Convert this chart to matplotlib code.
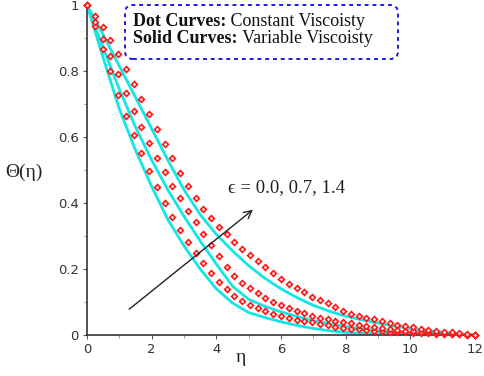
import matplotlib
matplotlib.use('Agg')
import matplotlib.pyplot as plt
from matplotlib.patches import FancyBboxPatch
from matplotlib.ticker import MultipleLocator

# solid curves (variable viscosity), eps = 0.0, 0.7, 1.4
eta_line = [0, 0.5, 1, 1.5, 2, 2.5, 3, 3.5, 4, 4.5, 5, 5.5, 6,
            6.5, 7, 7.5, 8, 8.5, 9, 9.5, 10, 10.5, 11, 11.5, 12]
solid_eps_00 = [1.0, 0.84, 0.685, 0.56, 0.45, 0.35, 0.27, 0.2, 0.14, 0.097, 0.068, 0.053, 0.04,
                0.029, 0.02, 0.013, 0.008, 0.005, 0.003, 0.002, 0.001, 0.001, 0.0, 0.0, 0.0]
solid_eps_07 = [1.0, 0.87, 0.745, 0.63, 0.53, 0.44, 0.36, 0.285, 0.215, 0.148, 0.108, 0.087, 0.07,
                0.056, 0.043, 0.034, 0.026, 0.019, 0.013, 0.009, 0.006, 0.004, 0.002, 0.001, 0.0]
solid_eps_14 = [1.0, 0.91, 0.815, 0.72, 0.625, 0.53, 0.44, 0.365, 0.305, 0.255, 0.21, 0.172, 0.14,
                0.113, 0.09, 0.072, 0.057, 0.046, 0.036, 0.027, 0.019, 0.013, 0.008, 0.004, 0.0]

# dotted curves (constant viscosity)
eta_dot = [0, 0.24, 0.48, 0.72, 0.96, 1.2, 1.44, 1.68, 1.92, 2.16, 2.4, 2.64, 2.88,
           3.12, 3.36, 3.6, 3.84, 4.08, 4.32, 4.56, 4.8, 5.04, 5.28, 5.52, 5.76,
           6.0, 6.24, 6.48, 6.72, 6.96, 7.2, 7.44, 7.68, 7.92, 8.16, 8.4, 8.64,
           8.88, 9.12, 9.36, 9.6, 9.84, 10.08, 10.32, 10.56, 10.8, 11.04, 11.28,
           11.52, 11.76, 12.0]
dot_eps_00 = [1.0, 0.935, 0.868, 0.80, 0.727, 0.665, 0.605, 0.55, 0.498, 0.448, 0.40, 0.358, 0.319,
              0.282, 0.249, 0.217, 0.188, 0.161, 0.139, 0.119, 0.104, 0.09, 0.082, 0.073, 0.064,
              0.057, 0.052, 0.046, 0.042, 0.038, 0.033, 0.029, 0.025, 0.022, 0.019, 0.017, 0.015,
              0.013, 0.012, 0.010, 0.009, 0.008, 0.007, 0.006, 0.005, 0.004, 0.003, 0.003,
              0.002, 0.001, 0.0]
dot_eps_07 = [1.0, 0.95, 0.897, 0.845, 0.79, 0.734, 0.679, 0.629, 0.581, 0.536, 0.493, 0.453, 0.414,
              0.377, 0.341, 0.306, 0.272, 0.239, 0.207, 0.178, 0.159, 0.141, 0.126, 0.111, 0.100,
              0.09, 0.081, 0.074, 0.066, 0.059, 0.053, 0.048, 0.043, 0.039, 0.035, 0.031, 0.027,
              0.023, 0.021, 0.018, 0.015, 0.013, 0.012, 0.010, 0.008, 0.007, 0.005, 0.004,
              0.003, 0.0015, 0.0]
dot_eps_14 = [1.0, 0.967, 0.934, 0.893, 0.852, 0.807, 0.761, 0.716, 0.67, 0.625, 0.579, 0.535, 0.492,
              0.452, 0.416, 0.383, 0.354, 0.328, 0.305, 0.283, 0.262, 0.242, 0.224, 0.205, 0.188,
              0.17, 0.156, 0.142, 0.129, 0.116, 0.106, 0.096, 0.086, 0.072, 0.065, 0.059, 0.053,
              0.047, 0.042, 0.037, 0.031, 0.027, 0.023, 0.019, 0.016, 0.013, 0.010, 0.008,
              0.005, 0.003, 0.0]

x_ticks = [0, 2, 4, 6, 8, 10, 12]
y_ticks = [0, 0.2, 0.4, 0.6, 0.8, 1.0]
y_tick_labels = ['0', '0.2', '0.4', '0.6', '0.8', '1']

SERIF = ['Liberation Serif', 'DejaVu Serif']
CYAN = '#12e6e6'
RED = '#ff1a1a'
BLUE = '#1a1ae6'
FS_BOX = 13

fig = plt.figure(figsize=(4.84, 3.76), dpi=100)
ax = fig.add_axes([87 / 484, 41 / 376, 388 / 484, 330 / 376])

for ys in (solid_eps_00, solid_eps_07, solid_eps_14):
  ax.plot(eta_line, ys, color=CYAN, lw=2.0, zorder=2)

for ys in (dot_eps_00, dot_eps_07, dot_eps_14):
  ax.plot(eta_dot, ys, ls='none', marker='D', ms=2.9, mfc='white',
          mec=RED, mew=1.25, zorder=3, clip_on=False)

ax.set_xlim(0, 12)
ax.set_ylim(0, 1)
ax.set_xticks(x_ticks)
ax.set_yticks(y_ticks)
ax.set_yticklabels(y_tick_labels)
ax.xaxis.set_minor_locator(MultipleLocator(1))
ax.yaxis.set_minor_locator(MultipleLocator(0.1))

for side in ('top', 'right'):
  ax.spines[side].set_visible(False)
for side in ('left', 'bottom'):
  ax.spines[side].set_color('#333333')
  ax.spines[side].set_linewidth(1.2)

ax.tick_params(which='major', length=3, width=0.8, color='#555555',
               labelsize=9.5, labelcolor='#333333', pad=3)
ax.tick_params(which='minor', length=2, width=0.6, color='#888888')

# axis labels placed like the original (pixel positions)
fig.text(241 / 484, 1 - 358 / 376, 'η', family=SERIF, fontsize=14,
         ha='center', va='center', color='#222222')
fig.text(24 / 484, 1 - 172 / 376, 'Θ(η)', family=SERIF, fontsize=14,
         ha='center', va='center', color='#222222')

# arrow and parameter label
ax.annotate('', xy=(5.2, 0.385), xytext=(1.24, 0.073),
            arrowprops=dict(arrowstyle='->', color='#222222', lw=1.0,
                            mutation_scale=14))
ax.text(4.36, 0.448, 'ϵ = 0.0, 0.7, 1.4', family=SERIF, fontsize=13.5,
        ha='left', va='center', color='#222222')

# legend box
box = FancyBboxPatch((1.25, 3.17), 2.73, 0.54,
                     boxstyle='round,pad=0,rounding_size=0.08',
                     transform=fig.dpi_scale_trans, fill=False,
                     ec=BLUE, lw=1.4, ls=(0, (2, 2)))
fig.patches.append(box)

t1 = fig.text(1.33 / 4.84, 3.46 / 3.76, 'Dot Curves:', family=SERIF,
              fontsize=FS_BOX, fontweight='bold', va='bottom', color='#111111')
t2 = fig.text(1.33 / 4.84, 3.29 / 3.76, 'Solid Curves:', family=SERIF,
              fontsize=FS_BOX, fontweight='bold', va='bottom', color='#111111')

ax.annotate(' Constant Viscoisty', xy=(1, 0), xycoords=t1, va='bottom',
            ha='left', family=SERIF, fontsize=FS_BOX, color='#111111',
            annotation_clip=False)
ax.annotate(' Variable Viscoisty', xy=(1, 0), xycoords=t2, va='bottom',
            ha='left', family=SERIF, fontsize=FS_BOX, color='#111111',
            annotation_clip=False)

fig.savefig('out.png', dpi=100)
